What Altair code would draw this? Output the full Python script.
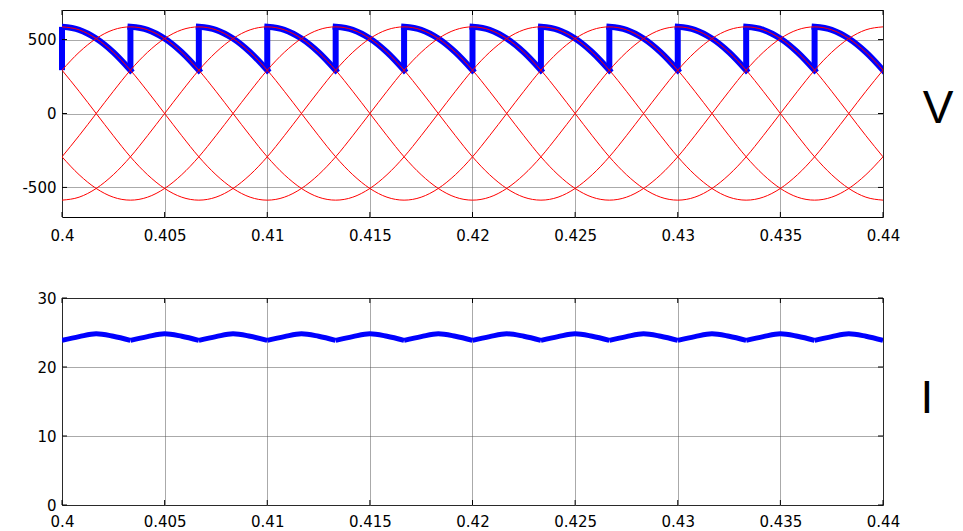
import altair as alt
import pandas as pd

# ---------------- data ----------------
t_start = 0.4
sample_step = 0.02 / 24          # 15 electrical degrees of the 50 Hz supply
n_samples = 49                   # 0.400 ... 0.440 s

# one cycle of a line voltage, read at 15-degree steps (V)
line_voltage_cycle = [0, 150, 293, 414, 507, 566, 586, 566, 507, 414, 293, 150,
                      0, -150, -293, -414, -507, -566, -586, -566, -507, -414, -293, -150]
# where each of the six line voltages sits in that cycle at t = 0.4 s
phase_start_index = [2, 6, 10, 14, 18, 22]

# rectified output voltage over one conduction interval (V)
output_segment_voltage = [586, 566, 507, 414, 293]
# load current over one conduction interval (A)
load_current_segment = [23.85, 24.4, 24.82, 24.45, 23.85]
n_segments = 12
segment_len = 4                  # samples per conduction interval

x_ticks = [0.4, 0.405, 0.41, 0.415, 0.42, 0.425, 0.43, 0.435, 0.44]
v_ticks = [-500, 0, 500]
i_ticks = [0, 10, 20, 30]

# ---------------- tables ----------------
times = [t_start + n * sample_step for n in range(n_samples)]

red_rows = []
for k, s in enumerate(phase_start_index):
    for n, t in enumerate(times):
        red_rows.append({"t": t, "v": line_voltage_cycle[(s + n) % 24], "phase": k, "o": n})
red_df = pd.DataFrame(red_rows)

blue_rows, cur_rows, jump_rows = [], [], []
for j in range(n_segments):
    base = j * segment_len
    jump_rows.append({"t": times[base], "v": output_segment_voltage[-1], "hi": output_segment_voltage[0]})
    for m in range(segment_len + 1):
        blue_rows.append({"t": times[base + m], "v": output_segment_voltage[m], "seg": j, "o": m})
        cur_rows.append({"t": times[base + m], "i": load_current_segment[m], "seg": j, "o": m})
blue_df = pd.DataFrame(blue_rows)
cur_df = pd.DataFrame(cur_rows)
jump_df = pd.DataFrame(jump_rows)

xt_df = pd.DataFrame({"t": x_ticks})
vt_df = pd.DataFrame({"v": v_ticks})
it_df = pd.DataFrame({"i": i_ticks})

# ---------------- styling ----------------
W = 821
H1 = 207
H2 = 207
FONT = "DejaVu Sans"
GRID = dict(grid=True, gridColor="#555555", gridDash=[1, 1], gridWidth=1, gridOpacity=1)

xscale = alt.Scale(domain=[0.4, 0.44], nice=False, zero=False)
vscale = alt.Scale(domain=[-700, 700], nice=False, zero=False)
iscale = alt.Scale(domain=[0, 30], nice=False, zero=False)


def x_enc(pad):
    return alt.X("t:Q", scale=xscale,
                 axis=alt.Axis(values=x_ticks, labelExpr="'' + datum.value", title=None,
                               ticks=False, domain=False, labelPadding=pad, labelFontSize=15,
                               labelFont=FONT, labelColor="black", labelFlush=False, **GRID))


def y_enc(field, scale, vals):
    return alt.Y(field + ":Q", scale=scale,
                 axis=alt.Axis(values=vals, labelExpr="'' + datum.value", title=None, ticks=False,
                               domain=False, labelPadding=6, labelFontSize=15, labelFont=FONT,
                               labelColor="black", **GRID))


def inner_ticks(yfield, yscale, ydf, yvals, H, xpad):
    left = alt.Chart(ydf).mark_rule(color="black", strokeWidth=1).encode(
        y=y_enc(yfield, yscale, yvals), x=alt.value(0), x2=alt.value(5))
    right = alt.Chart(ydf).mark_rule(color="black", strokeWidth=1).encode(
        y=y_enc(yfield, yscale, yvals), x=alt.value(W - 5), x2=alt.value(W))
    top = alt.Chart(xt_df).mark_rule(color="black", strokeWidth=1).encode(
        x=x_enc(xpad), y=alt.value(0), y2=alt.value(5))
    bottom = alt.Chart(xt_df).mark_rule(color="black", strokeWidth=1).encode(
        x=x_enc(xpad), y=alt.value(H - 5), y2=alt.value(H))
    return [left, right, top, bottom]


def side_label(text, dx, baseline_y):
    return alt.Chart(pd.DataFrame({"label": [text]})).mark_text(
        font="Liberation Sans", fontSize=46, align="center", baseline="alphabetic", color="black"
    ).encode(x=alt.value(W + dx), y=alt.value(baseline_y), text="label:N")


# ---------------- top panel: voltages ----------------
blue_v = alt.Chart(blue_df).mark_line(color="#0000FF", strokeWidth=6, interpolate="monotone",
                                      clip=True, strokeCap="square").encode(
    x=x_enc(11), y=y_enc("v", vscale, v_ticks), detail="seg:N", order="o:Q")
jumps = alt.Chart(jump_df).mark_rule(color="#0000FF", strokeWidth=6).encode(
    x=x_enc(11), y=y_enc("v", vscale, v_ticks), y2="hi:Q")
red = alt.Chart(red_df).mark_line(color="#FF0000", strokeWidth=1, interpolate="monotone",
                                  clip=True).encode(
    x=x_enc(11), y=y_enc("v", vscale, v_ticks), detail="phase:N", order="o:Q")

top = alt.layer(blue_v, jumps, red, *inner_ticks("v", vscale, vt_df, v_ticks, H1, 11),
                side_label("V", 55, 113)).properties(width=W, height=H1)

# ---------------- bottom panel: current ----------------
cur = alt.Chart(cur_df).mark_line(color="#0000FF", strokeWidth=5, interpolate="monotone",
                                  clip=True).encode(
    x=x_enc(9), y=y_enc("i", iscale, i_ticks), detail="seg:N", order="o:Q")

bottom = alt.layer(cur, *inner_ticks("i", iscale, it_df, i_ticks, H2, 9),
                   side_label("I", 44, 115)).properties(width=W, height=H2)

chart = alt.vconcat(top, bottom, spacing=46).properties(
    padding={"top": 1, "left": 13, "right": 0, "bottom": 0}
).configure_view(stroke="black", strokeWidth=1)

chart.save("out.html", embed_options={"renderer": "svg", "actions": False})
